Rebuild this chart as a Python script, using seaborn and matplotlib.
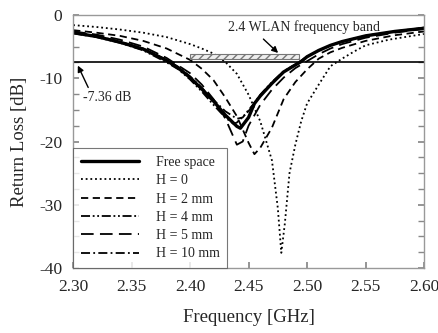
import matplotlib
matplotlib.use("Agg")
import matplotlib.pyplot as plt
from matplotlib.patches import Rectangle
from matplotlib.ticker import MultipleLocator
import seaborn as sns

# data
freq_free = [2.30, 2.32, 2.34, 2.36, 2.38, 2.39, 2.40, 2.41, 2.42, 2.43, 2.44, 2.443,
             2.45, 2.455, 2.46, 2.47, 2.48, 2.49, 2.495, 2.50, 2.51, 2.52, 2.53, 2.55, 2.575, 2.60]
rl_free = [-2.8, -3.4, -4.3, -5.4, -7.2, -8.4, -9.9, -11.7, -13.6, -15.8, -17.6, -17.9,
           -16.2, -14.0, -12.8, -10.8, -9.0, -7.9, -7.36, -6.6, -5.6, -4.8, -4.2, -3.3, -2.6, -2.1]

freq_h0 = [2.30, 2.32, 2.34, 2.36, 2.38, 2.40, 2.41, 2.42, 2.43, 2.44, 2.45, 2.46, 2.47,
           2.475, 2.478, 2.481, 2.485, 2.49, 2.495, 2.50, 2.51, 2.52, 2.53, 2.54, 2.55, 2.57, 2.60]
rl_h0 = [-1.6, -1.9, -2.3, -2.8, -3.5, -4.6, -5.3, -6.1, -7.4, -9.3, -12.6, -16.8, -23.0,
         -30.5, -37.6, -33.0, -25.0, -20.5, -16.8, -14.0, -11.0, -8.1, -6.9, -5.8, -4.8, -3.9, -3.0]

freq_h2 = [2.30, 2.32, 2.34, 2.36, 2.38, 2.40, 2.41, 2.42, 2.43, 2.44, 2.45, 2.455, 2.46,
           2.47, 2.48, 2.49, 2.50, 2.51, 2.52, 2.53, 2.55, 2.575, 2.60]
rl_h2 = [-2.4, -2.8, -3.3, -4.1, -5.3, -7.1, -8.5, -10.3, -13.0, -16.0, -20.2, -22.0, -21.0,
         -17.8, -13.3, -10.6, -8.6, -6.9, -5.9, -5.2, -4.1, -3.2, -2.6]

freq_h4 = [2.30, 2.32, 2.34, 2.36, 2.38, 2.39, 2.40, 2.41, 2.42, 2.43, 2.437, 2.44, 2.45,
           2.46, 2.47, 2.48, 2.49, 2.50, 2.51, 2.52, 2.53, 2.55, 2.575, 2.60]
rl_h4 = [-2.9, -3.5, -4.4, -5.6, -7.5, -8.6, -10.2, -12.1, -14.2, -16.2, -17.2, -17.0, -15.2,
         -12.6, -10.6, -8.9, -7.8, -6.6, -5.6, -4.8, -4.2, -3.3, -2.6, -2.0]

freq_h5 = [2.30, 2.32, 2.34, 2.36, 2.38, 2.40, 2.41, 2.42, 2.43, 2.44, 2.445, 2.45, 2.46,
           2.47, 2.48, 2.49, 2.50, 2.51, 2.52, 2.53, 2.55, 2.575, 2.60]
rl_h5 = [-2.6, -3.1, -3.9, -5.0, -6.8, -9.2, -11.0, -13.3, -16.3, -20.5, -20.0, -17.5, -14.2,
         -11.8, -9.9, -8.4, -7.3, -6.2, -5.3, -4.6, -3.6, -2.8, -2.2]

freq_h10 = [2.30, 2.32, 2.34, 2.36, 2.38, 2.39, 2.40, 2.41, 2.42, 2.43, 2.44, 2.445, 2.45,
            2.46, 2.47, 2.48, 2.49, 2.50, 2.51, 2.52, 2.53, 2.55, 2.575, 2.60]
rl_h10 = [-2.7, -3.3, -4.2, -5.3, -7.1, -8.2, -9.7, -11.5, -13.4, -15.2, -16.4, -16.2, -15.0,
          -12.8, -10.7, -9.0, -7.8, -6.6, -5.6, -4.8, -4.2, -3.3, -2.6, -2.0]

threshold = -7.36
band = [2.40, 2.4935]

sns.set_theme(style="white")
plt.rcParams['font.family'] = ['Liberation Serif', 'DejaVu Serif']
plt.rcParams['axes.unicode_minus'] = False
plt.rcParams['hatch.color'] = "#777777"

fig, ax = plt.subplots(figsize=(4.38, 3.33), dpi=100)
fig.subplots_adjust(left=0.167, right=0.968, top=0.955, bottom=0.195)

series = [
    ("Free space", freq_free, rl_free, "-", 2.4),
    ("H = 0", freq_h0, rl_h0, (0, (1, 1.6)), 1.3),
    ("H = 2 mm", freq_h2, rl_h2, (0, (4, 2.5)), 1.3),
    ("H = 4 mm", freq_h4, rl_h4, (0, (5, 1.5, 1, 1.5, 1, 1.5)), 1.3),
    ("H = 5 mm", freq_h5, rl_h5, (0, (7, 3.5)), 1.3),
    ("H = 10 mm", freq_h10, rl_h10, (0, (5, 1.8, 1, 1.8)), 1.3),
]
for name, x, y, ls, lw in series:
    sns.lineplot(x=x, y=y, ax=ax, color="black", linestyle=ls, linewidth=lw,
                 label=name, sort=False)

ax.axhline(threshold, color="black", lw=1.2)

# WLAN band box
ax.add_patch(Rectangle((band[0], -7.0), band[1] - band[0], 0.9, facecolor="#eeeeee",
                       edgecolor="#777777", hatch="////", lw=0.8, zorder=3))

ax.annotate("2.4 WLAN frequency band", xy=(2.477, -6.3), xytext=(2.432, -1.9),
            fontsize=10, va="center",
            arrowprops=dict(arrowstyle="-|>", color="black", lw=1, mutation_scale=9,
                            relpos=(0.2, 0), shrinkA=2))
ax.annotate("-7.36 dB", xy=(2.303, -7.6), xytext=(2.308, -13.0), fontsize=10, va="center",
            arrowprops=dict(arrowstyle="-|>", color="black", lw=1, mutation_scale=9,
                            shrinkA=0, relpos=(0.15, 1)))

ax.set_xlim(2.30, 2.60)
ax.set_ylim(-40, 0)
ax.yaxis.set_major_locator(MultipleLocator(10))
ax.yaxis.set_minor_locator(MultipleLocator(2.5))
ax.set_xticks([2.30, 2.35, 2.40, 2.45, 2.50, 2.55, 2.60])
ax.set_xticklabels(["2.30", "2.35", "2.40", "2.45", "2.50", "2.55", "2.60"])
ax.tick_params(axis="both", which="both", direction="in", color="#888888",
               labelsize=12.5, pad=8)
ax.tick_params(axis="y", which="both", right=True, left=True, length=4)
ax.tick_params(axis="x", which="both", bottom=True, length=4)
for sp in ax.spines.values():
    sp.set_color("#999999")
    sp.set_linewidth(1)

ax.set_xlabel("Frequency [GHz]", fontsize=13.5, labelpad=10)
ax.set_ylabel("Return Loss [dB]", fontsize=13.5, labelpad=8)

leg = ax.legend(loc="lower left", fontsize=10, frameon=True, fancybox=False,
                borderaxespad=0, handlelength=4.2, labelspacing=0.38,
                borderpad=0.55, handletextpad=1.2)
leg.get_frame().set_edgecolor("#555555")
leg.get_frame().set_linewidth(0.8)

fig.savefig("out.png", dpi=100)
